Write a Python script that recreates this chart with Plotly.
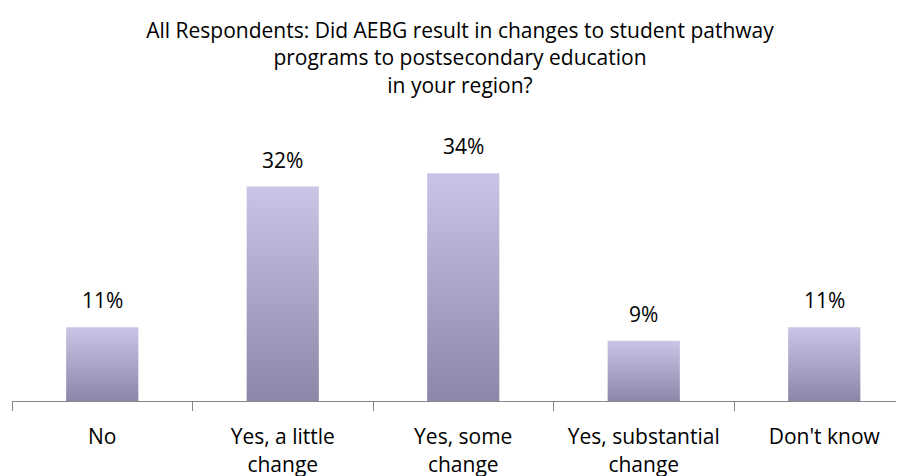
import plotly.graph_objects as go

categories = ["No", "Yes, a little<br>change", "Yes, some<br>change", "Yes, substantial<br>change", "Don't know"]
values = [0.11, 0.32, 0.34, 0.09, 0.11]
labels = ["11%", "32%", "34%", "9%", "11%"]

FONT = "Open Sans"
FS = 21
BW = 0.4
fig = go.Figure()
for i, v in enumerate(values):
    xs = [i - BW / 2, i + BW / 2, i + BW / 2, i - BW / 2, i - BW / 2]
    ys = [0, 0, v, v, 0]
    fig.add_trace(go.Scatter(
        x=xs, y=ys, mode="lines", fill="toself",
        line=dict(width=0, color="rgba(0,0,0,0)"),
        fillgradient=dict(type="vertical",
                          colorscale=[[0, "#8b87a9"], [1, "#c9c5e6"]]),
        hoverinfo="skip", showlegend=False,
    ))
for i, (v, t) in enumerate(zip(values, labels)):
    fig.add_annotation(x=i, y=v, text=t, showarrow=False, yanchor="bottom",
                       yshift=11, font=dict(size=FS, color="#000", family=FONT))

fig.update_layout(
    width=904, height=476,
    margin=dict(l=4, r=0, t=125, b=83),
    paper_bgcolor="white", plot_bgcolor="white",
    title=dict(text="All Respondents: Did AEBG result in changes to student pathway<br>programs to postsecondary education<br>in your region?",
               x=0.5, xanchor="center", y=0.937, yanchor="top",
               font=dict(size=FS, color="#000", family=FONT)),
    font=dict(family=FONT, size=FS, color="#000"),
)
fig.update_xaxes(
    range=[-0.5, -0.5 + 900 / 180.5], tickmode="array",
    tickvals=list(range(len(categories))), ticktext=categories,
    showgrid=False, zeroline=False, showline=True, linecolor="#868686", linewidth=1,
    ticks="", ticklabelstandoff=17, tickfont=dict(size=FS, family=FONT, color="#000"),
)
fig.update_xaxes(minor=dict(tickmode="array", tickvals=[-0.5, 0.5, 1.5, 2.5, 3.5], ticks="outside",
                            ticklen=9, tickcolor="#868686", tickwidth=1, showgrid=False))
fig.update_yaxes(range=[0, 0.40], visible=False, showgrid=False, zeroline=False)

fig.write_html("out.html")
